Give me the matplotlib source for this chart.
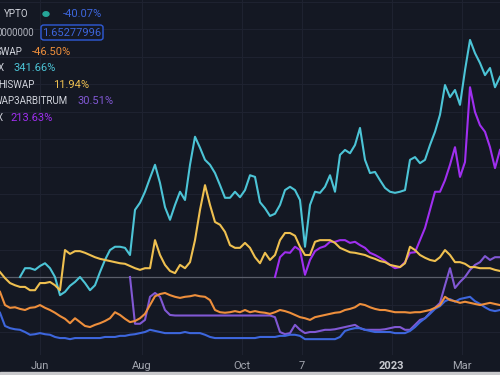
import numpy as np
import matplotlib
matplotlib.use('Agg')
import matplotlib.pyplot as plt
from matplotlib.patches import Rectangle, FancyBboxPatch

plt.rcParams['font.family'] = ['Roboto', 'DejaVu Sans']

nan = np.nan

# one sample every 3 days, day 0 = 8 May 2022
days = np.arange(101) * 3

tick_days = [24, 85, 145, 181, 235, 277]
tick_labels = ['Jun', 'Aug', 'Oct', '7', '2023', 'Mar']

# % change series (comparison mode)
cyan_pct = [nan] * 4 + [
    0, 16, 16, 13, 20, 25, 16, 0, -33, -27,
    -16, -9, 0, -11, -24, -15, 9, 31, 49, 55,
    55, 53, 40, 122, 135, 155, 180, 204, 171, 127,
    104, 131, 155, 140, 204, 255, 235, 213, 204, 189,
    167, 144, 144, 155, 145, 158, 185, 182, 136, 125,
    111, 115, 131, 158, 164, 158, 140, 55, 131, 155,
    153, 164, 185, 155, 222, 231, 225, 240, 271, 213,
    189, 191, 176, 162, 155, 153, 155, 158, 213, 218,
    207, 213, 240, 264, 295, 349, 327, 340, 313, 376,
    431, 407, 389, 367, 380, 345, 364]

yellow_pct = [
    9, -2, -11, -15, -18, -18, -24, -24, -11, -11,
    -9, -15, -24, 49, 42, 47, 47, 44, 40, 36,
    33, 31, 29, 27, 25, 24, 20, 16, 13, 16,
    16, 67, 40, 22, 11, 7, 22, 16, 27, 67,
    122, 167, 131, 100, 95, 82, 58, 53, 53, 62,
    53, 36, 25, 44, 31, 40, 67, 80, 80, 75,
    55, 40, 40, 64, 67, 67, 67, 62, 53, 49,
    45, 44, 42, 40, 36, 33, 29, 27, 22, 20,
    18, 25, 55, 49, 40, 35, 31, 29, 36, 49,
    40, 27, 27, 24, 18, 18, 16, 16, 16, 13, 11]

orange_pct = [
    -27, -51, -56, -55, -58, -60, -56, -55, -51, -56,
    -60, -65, -71, -76, -84, -75, -82, -89, -91, -87,
    -84, -80, -75, -64, -69, -76, -82, -80, -75, -67,
    -51, -35, -31, -29, -33, -36, -38, -36, -35, -33,
    -35, -36, -42, -60, -64, -65, -64, -62, -64, -60,
    -64, -62, -64, -65, -67, -64, -60, -62, -65, -69,
    -73, -75, -78, -73, -71, -69, -67, -65, -64, -60,
    -58, -55, -49, -51, -55, -58, -60, -60, -62, -64,
    -64, -64, -65, -64, -64, -62, -60, -56, -51, -36,
    -42, -44, -47, -45, -47, -49, -51, -49, -47, -49, -51]

blue_pct = [
    -65, -89, -93, -95, -96, -100, -105, -104, -102, -104,
    -105, -109, -111, -111, -113, -111, -111, -111, -111, -111,
    -111, -109, -109, -109, -107, -107, -105, -104, -102, -100,
    -96, -98, -100, -102, -102, -102, -102, -100, -102, -102,
    -102, -105, -109, -111, -111, -111, -111, -111, -111, -111,
    -111, -111, -109, -109, -109, -109, -107, -107, -105, -105,
    -107, -113, -113, -113, -113, -113, -113, -113, -109, -98,
    -95, -93, -93, -96, -98, -100, -100, -100, -100, -102,
    -102, -102, -98, -91, -82, -75, -67, -58, -53, -44,
    -40, -45, -40, -38, -36, -44, -49, -55, -60, -62, -60]

lavender_pct = [nan] * 26 + [
    0, -85, -85, -78, -36, -29, -36, -60, -69, -70,
    -70, -70, -70, -70, -70, -70, -70, -70, -70, -70,
    -70, -70, -70, -70, -70, -70, -70, -70, -70, -73,
    -100, -104, -102, -87, -96, -102, -100, -100, -98, -96,
    -96, -95, -93, -91, -89, -87, -93, -96, -96, -96,
    -96, -95, -93, -91, -91, -96, -96, -87, -78, -75,
    -65, -56, -47, -15, 16, -20, -9, 0, 13, 22,
    27, 38, 31, 36, 36]

magenta_pct = [nan] * 55 + [
    0, 36, 45, 44, 55, 49, 4, 31, 47, 53,
    56, 64, 64, 67, 67, 62, 64, 58, 53, 44,
    40, 35, 29, 22, 16, 18, 27, 44, 45, 67,
    89, 122, 155, 155, 176, 204, 236, 182, 209, 345,
    300, 276, 264, 236, 198, 231]

bg = '#141823'
c_cyan = '#4cc4d6'
c_yellow = '#efc050'
c_orange = '#ee8f3c'
c_blue = '#3d66dc'
c_lav = '#8158d4'
c_mag = '#a02ff0'

fig = plt.figure(figsize=(5, 3.75), dpi=100, facecolor=bg)
ax = fig.add_axes([0, 20 / 375, 1, 355 / 375])
ax.set_facecolor(bg)

for y in range(-100, 501, 50):
    ax.axhline(y, color='#1e2230', lw=0.8, zorder=0)
for d in tick_days:
    ax.axvline(d, color='#1e2230', lw=0.8, zorder=0)
ax.axhline(0, color='#5a5e6a', lw=0.9, zorder=1)

lw = 1.5
ax.plot(days, magenta_pct, color=c_mag, lw=lw, zorder=2)
ax.plot(days, lavender_pct, color=c_lav, lw=lw, zorder=2)
ax.plot(days, blue_pct, color=c_blue, lw=lw, zorder=3)
ax.plot(days, orange_pct, color=c_orange, lw=lw, zorder=3)
ax.plot(days, cyan_pct, color=c_cyan, lw=lw, zorder=3)
ax.plot(days, yellow_pct, color=c_yellow, lw=lw, zorder=4)

ax.set_xlim(0, 300)
ax.set_ylim(-141.8, 503.6)
ax.set_yticks([])
ax.set_xticks(tick_days)
ax.set_xticklabels(tick_labels)
ax.tick_params(axis='x', length=0, pad=4, labelsize=8, colors='#a3a6af')
ax.get_xticklabels()[4].set_fontweight('bold')
ax.get_xticklabels()[4].set_color('#c8cad0')
for s in ax.spines.values():
    s.set_visible(False)

# light strip at the very bottom of the screenshot
fig.add_artist(Rectangle((0, 0), 1, 3 / 375, transform=fig.transFigure,
                         color='#c9c9cc', zorder=10))


def px(x, y):
    return x / 500, 1 - y / 375


name_col = '#d1d4dc'
rows = [
    ('YPTO', 29, 14, '-40.07%', 63, c_blue),
    ('0000000', 34, 33, None, None, None),
    ('SWAP', 22, 52, '-46.50%', 32, c_orange),
    ('X', 4, 68, '341.66%', 13, c_cyan),
    ('HISWAP', 35, 85, '11.94%', 53, c_yellow),
    ('WAP3ARBITRUM', 68, 101, '30.51%', 78, c_lav),
    ('X', 3, 118, '213.63%', 10, c_mag),
]
for name, xe, y, val, xv, col in rows:
    fig.text(*px(xe, y), name, ha='right', va='center', fontsize=7,
             color=name_col if val else '#b2b5be')
    if val:
        fig.text(*px(xv, y), val, ha='left', va='center', fontsize=8, color=col)

# green status dot
fig.add_artist(plt.Circle(px(46, 14), 3 / 500, transform=fig.transFigure,
                          color='#26a69a', zorder=10))
# boxed price value
bx0, by0 = px(41, 40)
bx1, by1 = px(103, 25)
fig.add_artist(FancyBboxPatch((bx0, by0), bx1 - bx0, by1 - by0,
                              boxstyle='round,pad=0,rounding_size=0.006',
                              transform=fig.transFigure, facecolor=bg,
                              edgecolor='#2f5bd8', lw=1, zorder=10))
fig.text(*px(72, 33), '1.65277996', ha='center', va='center', fontsize=8,
         color='#3d66dc', zorder=11)

fig.savefig('out.png', dpi=100, facecolor=bg)
